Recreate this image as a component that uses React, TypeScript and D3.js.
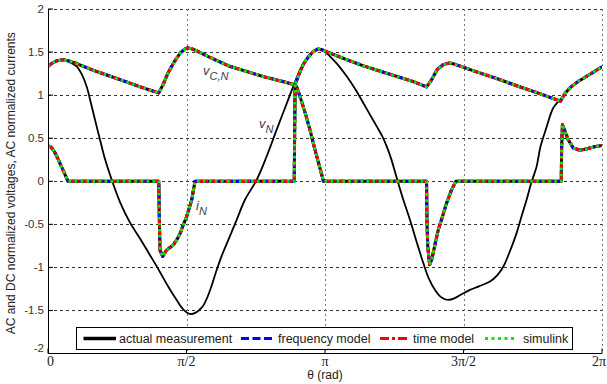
import React from "react";
import * as d3 from "d3";

// theta in degrees (0..360 maps to 0..2π)
const vCN: [number, number][] = [
  [0, 1.335], [3, 1.375], [6, 1.4], [10, 1.41], [14, 1.395], [18, 1.37], [23, 1.335], [30, 1.285],
  [40, 1.222], [50, 1.16], [60, 1.095], [66, 1.06], [72, 1.026], [75, 1.13], [78, 1.258], [82, 1.385],
  [86, 1.49], [89, 1.538], [91, 1.549], [94, 1.535], [97, 1.51], [105, 1.44], [118, 1.335], [130, 1.27],
  [140, 1.215], [150, 1.17], [160.5, 1.12], [163, 1.24], [166, 1.36], [169, 1.44], [172, 1.5],
  [175.5, 1.537], [179, 1.521], [185, 1.475], [194, 1.413], [205, 1.34], [216, 1.277], [226, 1.22],
  [237, 1.16], [246, 1.095], [249, 1.17], [253, 1.3], [257, 1.355], [261, 1.374], [265, 1.355],
  [272, 1.31], [281, 1.255], [292, 1.19], [306, 1.1], [320, 1.015], [333, 0.93], [336, 1.02],
  [339, 1.084], [345, 1.165], [352, 1.24], [358.7, 1.316], [360, 1.33],
];

const vN: [number, number][] = [
  [0, 1.33], [4, 1.385], [8, 1.41], [11, 1.405], [15, 1.375], [18.6, 1.335], [22, 1.24], [25.1, 1.1],
  [28, 0.9], [31.6, 0.637], [33.8, 0.483], [37, 0.26], [41.4, 0.017], [47, -0.25], [53.3, -0.48],
  [60, -0.67], [66, -0.85], [72, -1.03], [78, -1.22], [83.6, -1.38], [88, -1.49], [92.3, -1.541],
  [96, -1.525], [100, -1.465], [103, -1.37], [106, -1.23], [109.6, -1.03], [113, -0.86], [117, -0.69],
  [122.6, -0.448], [128, -0.215], [135.6, 0.017], [142.1, 0.29], [148.6, 0.599], [154, 0.85],
  [159.4, 1.102], [164, 1.3], [168.1, 1.413], [172, 1.5], [175.6, 1.537], [179, 1.515],
  [183.2, 1.451], [188, 1.36], [194.1, 1.219], [200, 1.06], [204.9, 0.909], [209, 0.78],
  [213.6, 0.637], [217, 0.53], [220.1, 0.405], [223, 0.26], [226.6, 0.04], [230.9, -0.215],
  [235.2, -0.448], [240, -0.73], [243.9, -0.951], [247.5, -1.13], [251.5, -1.262], [255, -1.34],
  [258, -1.37], [260.1, -1.378], [264, -1.36], [269, -1.31], [274.2, -1.262], [280, -1.22],
  [287.2, -1.165], [292, -1.09], [295.9, -0.99], [300, -0.82], [304.5, -0.602], [308, -0.39],
  [311, -0.215], [314, -0.02], [317.5, 0.17], [320, 0.4], [324, 0.63], [328.3, 0.85], [332.7, 0.948],
  [336, 1.01], [339, 1.075], [345, 1.16], [352, 1.24], [358.7, 1.316], [360, 1.33],
];

const iN: [number, number][] = [
  [0, 0.41], [2, 0.395], [4, 0.35], [6, 0.28], [8, 0.2], [10, 0.12], [12, 0.04], [13, 0], [72, 0],
  [72.3, -0.4], [72.8, -0.8], [74.5, -0.874], [77, -0.8], [81.4, -0.74], [84, -0.67], [86, -0.6],
  [88, -0.5], [90.1, -0.41], [93.4, -0.215], [95.5, 0], [160, 0], [160.3, 0.6], [160.6, 1.11],
  [161.5, 1.1], [163.7, 0.986], [167, 0.8], [170.2, 0.6], [173, 0.4], [176, 0.2], [179, 0], [246, 0],
  [246.3, -0.5], [246.8, -0.76], [248, -0.97], [249.5, -0.9], [251.5, -0.73], [253.6, -0.564],
  [256, -0.43], [259, -0.254], [262, -0.11], [265, 0], [333.5, 0], [333.8, 0.4], [334.3, 0.66],
  [335.5, 0.6], [338, 0.483], [341.3, 0.386], [345.7, 0.36], [351, 0.38], [355, 0.4], [360, 0.415],
];

const xTicks = [0, 90, 180, 270, 360];
const xTickLabels = ["0", "\u03c0/2", "\u03c0", "3\u03c0/2", "2\u03c0"];
const yTicks = [-2, -1.5, -1, -0.5, 0, 0.5, 1, 1.5, 2];
const legendLabels = ["actual measurement", "frequency model", "time model", "simulink"];

const W = 607;
const H = 384;
const L = 48, R = 602, T = 9, B = 353.5;

export default function App() {
  const x = d3.scaleLinear().domain([0, 360]).range([L, R]);
  const y = d3.scaleLinear().domain([-2, 2]).range([B, T]);
  const lin = d3.line<[number, number]>().x((d) => x(d[0])).y((d) => y(d[1]));
  const smooth = d3
    .line<[number, number]>()
    .x((d) => x(d[0]))
    .y((d) => y(d[1]))
    .curve(d3.curveCatmullRom.alpha(0.5));

  const models = [
    { color: "#0000ff", dash: "6,3" },
    { color: "#ff0000", dash: "6,3,2,3" },
    { color: "#00ee00", dash: "2.5,3.5" },
  ];
  const sans = "'Liberation Sans', Arial, sans-serif";
  const serif = "'Liberation Serif', 'Times New Roman', serif";

  const legendItems = [
    { x0: 83.5, x1: 116, tx: 119, color: "#000", dash: "none", w: 3.5 },
    { x0: 241, x1: 275, tx: 278, color: "#0000ff", dash: "8,3.5", w: 3 },
    { x0: 380, x1: 410, tx: 413, color: "#ff0000", dash: "9,3,3,3", w: 3 },
    { x0: 485, x1: 517, tx: 523, color: "#00ee00", dash: "3,3.5", w: 3 },
  ];

  return (
    <svg
      width={W}
      height={H}
      style={{ position: "absolute", left: 0, top: 0, background: "#fff" }}
    >
      <defs>
        <clipPath id="plot">
          <rect x={L} y={T - 2} width={R - L} height={B - T + 2} />
        </clipPath>
      </defs>
      <rect x={0} y={0} width={W} height={H} fill="#fff" />
      {/* horizontal grid */}
      {yTicks.filter((t) => t > -2).map((t) => (
        <line
          key={"hg" + t}
          x1={L}
          x2={R}
          y1={Math.round(y(t)) + 0.5}
          y2={Math.round(y(t)) + 0.5}
          stroke="#333"
          strokeDasharray="3,3"
          strokeWidth={1}
        />
      ))}
      {/* vertical grid */}
      {xTicks.filter((t) => t > 0).map((t) => (
        <line
          key={"vg" + t}
          x1={Math.round(x(t)) + 0.5}
          x2={Math.round(x(t)) + 0.5}
          y1={T}
          y2={B}
          stroke="#777"
          strokeDasharray="2,3"
          strokeWidth={1}
        />
      ))}
      <g clipPath="url(#plot)" fill="none" strokeLinejoin="round">
        <path d={smooth(vN) || ""} stroke="#000" strokeWidth={1.8} />
        {[vCN, iN].map((s, i) => (
          <path key={"m" + i} d={lin(s) || ""} stroke="#000" strokeWidth={3} />
        ))}
        {models.map((m, j) =>
          [vCN, iN].map((s, i) => (
            <path
              key={"c" + j + "_" + i}
              d={lin(s) || ""}
              stroke={m.color}
              strokeWidth={3}
              strokeDasharray={m.dash}
            />
          ))
        )}
      </g>
      {/* axes */}
      <line x1={L + 0.5} x2={L + 0.5} y1={T} y2={B} stroke="#000" strokeWidth={1} />
      <line x1={L} x2={R} y1={B} y2={B} stroke="#000" strokeWidth={1} />
      {xTicks.map((t) => (
        <line key={"xt" + t} x1={x(t)} x2={x(t)} y1={B} y2={B - 5} stroke="#000" />
      ))}
      {yTicks.map((t) => (
        <line key={"yt" + t} x1={L} x2={L + 5} y1={y(t)} y2={y(t)} stroke="#000" />
      ))}
      {/* y tick labels */}
      {yTicks.map((t) => (
        <text
          key={"yl" + t}
          x={44}
          y={y(t) + (t === -2 ? -2 : 4)}
          textAnchor="end"
          fontFamily={sans}
          fontSize={11.5}
          fill="#333"
        >
          {String(t)}
        </text>
      ))}
      {/* x tick labels */}
      {xTicks.map((t, i) => (
        <text
          key={"xl" + t}
          x={i === 0 ? x(t) - 1 : i === 4 ? 606 : x(t)}
          y={366}
          textAnchor={i === 0 ? "start" : i === 4 ? "end" : "middle"}
          fontFamily={serif}
          fontSize={14}
          fill="#222"
        >
          {xTickLabels[i]}
        </text>
      ))}
      <text x={(L + R) / 2} y={379} textAnchor="middle" fontFamily={sans} fontSize={12} fill="#222">
        θ (rad)
      </text>
      <text
        transform={`translate(15, ${(T + B) / 2 + 2}) rotate(-90)`}
        textAnchor="middle"
        fontFamily={sans}
        fontSize={12}
        fill="#222"
      >
        AC and DC normalized voltages, AC normalized currents
      </text>
      {/* curve labels */}
      <text x={203} y={75} fontFamily={sans} fontSize={13} fill="#3a4150" fontStyle="italic">
        v
        <tspan dy={5} fontSize={11}>C,N</tspan>
      </text>
      <text x={259} y={128} fontFamily={sans} fontSize={13} fill="#3a4150" fontStyle="italic">
        v
        <tspan dy={5} fontSize={11}>N</tspan>
      </text>
      <text x={196} y={210} fontFamily={sans} fontSize={13} fill="#3a4150" fontStyle="italic">
        i
        <tspan dy={5} fontSize={11}>N</tspan>
      </text>
      {/* legend */}
      <rect x={76.5} y={327.5} width={496} height={22} fill="#fff" stroke="#000" strokeWidth={1} />
      {legendItems.map((it, i) => (
        <g key={"lg" + i}>
          <line
            x1={it.x0}
            x2={it.x1}
            y1={338.5}
            y2={338.5}
            stroke={it.color}
            strokeWidth={it.w}
            strokeDasharray={it.dash}
          />
          <text x={it.tx} y={343} fontFamily={sans} fontSize={12.5} fill="#222">
            {legendLabels[i]}
          </text>
        </g>
      ))}
    </svg>
  );
}
